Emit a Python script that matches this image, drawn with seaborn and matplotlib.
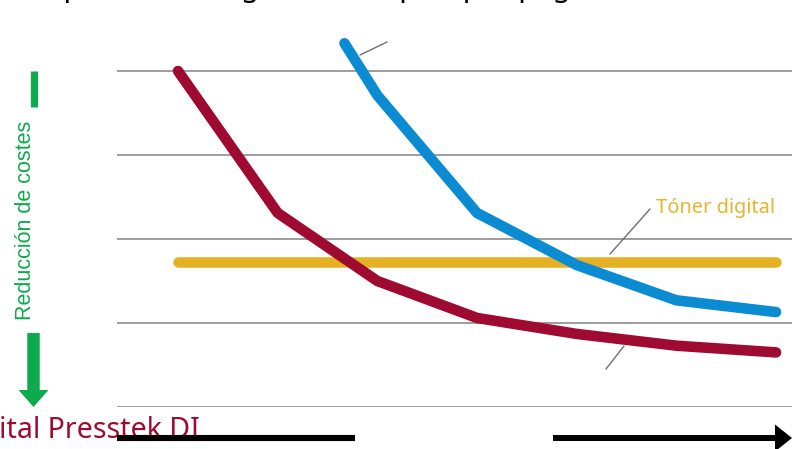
import pandas as pd
import matplotlib.pyplot as plt
import seaborn as sns
from matplotlib.lines import Line2D
from matplotlib.patches import FancyArrow

# Datos (coste relativo, eje y sin etiquetas)
presstek_x = [0, 1, 2, 3, 4, 5, 6]
presstek_y = [4.0, 2.31, 1.50, 1.06, 0.87, 0.73, 0.65]
offset_x = [1.67, 2, 3, 4, 5, 6]
offset_y = [4.33, 3.71, 2.31, 1.69, 1.27, 1.13]
toner_x = [0, 6]
toner_y = [1.73, 1.73]
grid_levels = [0, 1, 2, 3, 4]

RED = "#9E0A30"
BLUE = "#0B8CD2"
YELLOW = "#E5B023"
GREEN = "#0DAA4E"
GREY = "#8C8C8C"

W, H = 798, 449


def fx(px):
    return px / W


def fy(py):
    return 1 - py / H


df = pd.concat([
    pd.DataFrame({"x": toner_x, "coste": toner_y, "serie": "Tóner digital"}),
    pd.DataFrame({"x": presstek_x, "coste": presstek_y, "serie": "Digital Presstek DI"}),
    pd.DataFrame({"x": offset_x, "coste": offset_y, "serie": "Offset"}),
])

sns.set_theme(style="white")
plt.rcParams["font.family"] = ["Noto Sans", "DejaVu Sans"]

fig = plt.figure(figsize=(W / 100, H / 100), dpi=100)
ax = fig.add_axes([fx(117), fy(407), fx(792) - fx(117), fy(30) - fy(407)])

sns.lineplot(data=df, x="x", y="coste", hue="serie",
             hue_order=["Tóner digital", "Digital Presstek DI", "Offset"],
             palette={"Tóner digital": YELLOW, "Digital Presstek DI": RED, "Offset": BLUE},
             linewidth=7.6, sort=False, legend=False, ax=ax,
             solid_capstyle="round", solid_joinstyle="round", clip_on=False)

ax.set_xlim(-0.612, 6.16)
ax.set_ylim(0, 4.488)
ax.set_yticks(grid_levels)
ax.set_xticks([])
ax.set_yticklabels([])
ax.set_xlabel("")
ax.set_ylabel("")
ax.grid(axis="y", color=GREY, linewidth=1.2)
ax.set_axisbelow(True)
sns.despine(ax=ax, left=True, bottom=True)
ax.tick_params(length=0)


def leader(x0, y0, x1, y1):
    fig.add_artist(Line2D([fx(x0), fx(x1)], [fy(y0), fy(y1)],
                          transform=fig.transFigure, color="#6E6E6E", linewidth=1))


leader(360, 55, 387, 42)
leader(610, 254, 650, 209)
leader(624, 346, 606, 369)

fig.text(fx(656), fy(213), "Tóner digital", color="#E8B430", fontsize=14.4,
         ha="left", va="baseline")
fig.text(fx(200), fy(438), "Digital Presstek DI", color=RED, fontsize=20.6,
         ha="right", va="baseline", zorder=1)

# título (cortado en la parte superior)
fig.text(fx(0), fy(-4), "Comparación del gasto de copias por página", color="black",
         fontsize=21, fontweight="bold", ha="left", va="baseline")

# flecha verde "Reducción de costes"
fig.add_artist(Line2D([fx(33.5), fx(33.5)], [fy(71), fy(107)], transform=fig.transFigure,
                      color=GREEN, linewidth=5.2, solid_capstyle="butt"))
fig.text(fx(26), fy(220), "Reducción de costes", color=GREEN, fontsize=15.5,
         family=["Liberation Sans", "DejaVu Sans"], rotation=90, ha="center", va="center")
fig.add_artist(FancyArrow(fx(33.5), fy(333), 0, fy(407) - fy(333), width=7 / H,
                          head_width=30 / W, head_length=17 / H, length_includes_head=True,
                          transform=fig.transFigure, color=GREEN, linewidth=0))

# ejes inferiores en negro
fig.add_artist(Line2D([fx(117), fx(355)], [fy(438), fy(438)], transform=fig.transFigure,
                      color="black", linewidth=4.4, solid_capstyle="butt", zorder=3))
fig.add_artist(FancyArrow(fx(553), fy(438), fx(792) - fx(553), 0, width=6 / H,
                          head_width=27 / H, head_length=17 / W, length_includes_head=True,
                          transform=fig.transFigure, color="black", linewidth=0, zorder=3))

fig.savefig("out.png", dpi=100)
